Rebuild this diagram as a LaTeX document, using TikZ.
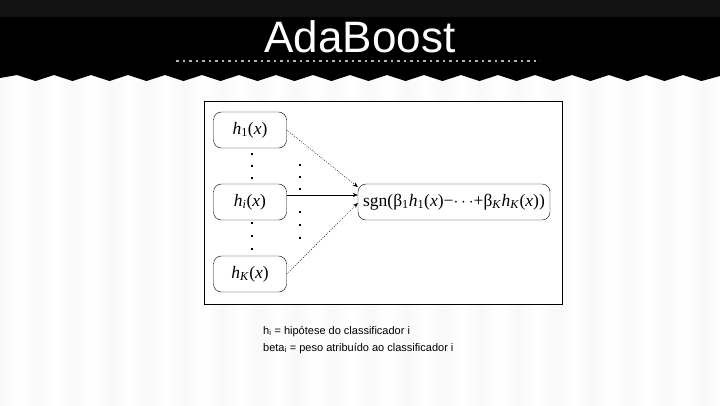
\documentclass[tikz,border=0pt]{standalone}
\usepackage{fontspec}
\setmainfont{Liberation Serif}
\setsansfont{Liberation Sans}
\usetikzlibrary{arrows.meta}
\tikzset{
    hbox/.style={draw,thin,rounded corners=8pt,minimum width=73pt,minimum height=36pt,inner sep=2pt,font=\fontsize{17.5}{19}\selectfont},
    sumbox/.style={hbox,minimum width=192pt},
    vote/.style={-{Stealth[length=5pt,width=4pt]},thin},
    weakvote/.style={vote,dash pattern=on 1pt off 1.3pt},
}
\begin{document}
\begin{tikzpicture}[x=1pt,y=-1pt]
    \useasboundingbox (0,0) rectangle (720,405);
    % striped background
    \fill[gray!3] (0,0) rectangle (720,405);
    \foreach \i in {0,...,19}
        \shade[left color=gray!5, right color=gray!5, middle color=white] ({\i*37},70) rectangle +(37,335);
    % title band with zigzag edge
    \fill[black] (0,0) -- (0,78) \foreach \i in {0,...,18} { -- ({17+37*\i},75) -- ({35.5+37*\i},81) } -- (720,76) -- (720,0) -- cycle;
    \fill[black!93] (0,0) rectangle (720,17);
    \node[white,anchor=base,font=\sffamily\fontsize{44}{48}\selectfont] (title) at (360,52) {AdaBoost};
    \draw[gray!60,line width=2.5pt,dash pattern=on 2.5pt off 4pt] (176,61) -- (540,61);
    % diagram
    \draw[fill=white,thin] (204,101) rectangle (562,304);
    \node[hbox] (h1) at (250,130) {\textit{h}\textsubscript{1}(\textit{x})};
    \node[hbox] (hi) at (250,202) {\textit{h}\textsubscript{\textit{i}}(\textit{x})};
    \node[hbox] (hk) at (250,274) {\textit{h}\textsubscript{\textit{K}}(\textit{x})};
    \node[sumbox] (sum) at (454,202) {sgn(β\textsubscript{1}\textit{h}\textsubscript{1}(\textit{x})−$\cdots$+β\textsubscript{\textit{K}}\textit{h}\textsubscript{\textit{K}}(\textit{x}))};
    \draw[weakvote] (h1.east) -- ([yshift=15pt]sum.west);
    \draw[vote] ([yshift=7pt]hi.east) -- ([yshift=7pt]sum.west);
    \draw[weakvote] (hk.east) -- ([yshift=-1pt]sum.west);
    % vertical dots
    \foreach \y in {153,165,177,222,235,248}
        \fill (250.5,\y) rectangle +(2.3,2.3);
    \foreach \y in {164,176,188,211,224,237}
        \fill (299,\y) rectangle +(2.3,2.3);
    % notes
    \node[anchor=base west,inner sep=0pt,font=\sffamily\fontsize{11}{13}\selectfont] (note1) at (263,334) {h\textsubscript{i} = hipótese do classificador i};
    \node[anchor=base west,inner sep=0pt,font=\sffamily\fontsize{11}{13}\selectfont] (note2) at (263,351) {beta\textsubscript{i} = peso atribuído ao classificador i};
\end{tikzpicture}
\end{document}
